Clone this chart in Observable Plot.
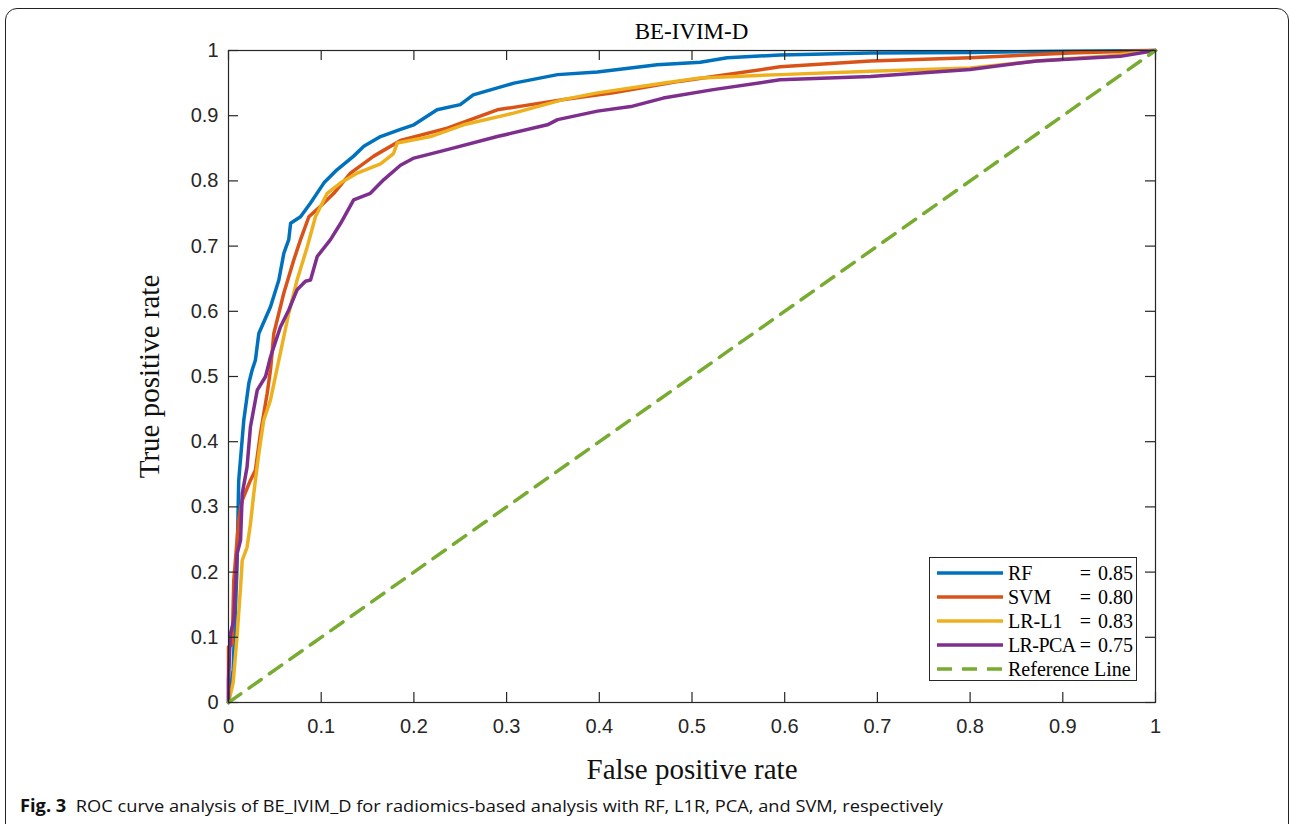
<!DOCTYPE html>
<html>
<head>
<meta charset="utf-8">
<script src="https://cdn.jsdelivr.net/npm/d3@7"></script>
<script src="https://cdn.jsdelivr.net/npm/@observablehq/plot@0.6"></script>
<style>
  html, body { margin: 0; padding: 0; background: #fff; }
  #wrap { position: relative; width: 1290px; height: 824px; overflow: hidden; background: #fff; }
  #chart { position: absolute; left: 0; top: 0; }
  #border { position: absolute; left: 5px; top: 8px; width: 1284px; height: 900px; border: 1.5px solid #222; border-radius: 12px; box-sizing: border-box; pointer-events: none; }
  #title { position: absolute; left: 228px; width: 927px; top: 18px; text-align: center; font-family: "Liberation Serif", serif; font-size: 23px; line-height: 28px; color: #000; }
  #legend { position: absolute; left: 929px; top: 557px; width: 208px; height: 124px; border: 1px solid #262626; background: #fff; box-sizing: border-box; font-family: "Liberation Serif", serif; font-size: 20px; color: #000; }
  .row { position: absolute; left: 0; height: 24px; width: 100%; }
  .row svg { position: absolute; left: 6px; top: 0; }
  .row .name { position: absolute; left: 78px; top: 0; line-height: 24px; white-space: pre; }
  .row .val { position: absolute; right: 3px; top: 0; line-height: 24px; white-space: pre; }
  .row .eq { margin-right: 7px; }
  #caption { position: absolute; left: 20px; top: 795px; white-space: nowrap; font-family: "Open Sans", "Noto Sans", sans-serif; font-size: 17px; line-height: 22px; color: #111; transform-origin: 0 0; display: inline-block; }
</style>
</head>
<body>
<div id="wrap">
  <div id="chart"></div>
  <div id="border"></div>
  <div id="title"></div>
  <div id="legend"></div>
  <div id="caption"></div>
</div>
<script>
// ---------- data ----------
const titleText = "BE-IVIM-D";
const xLabel = "False positive rate";
const yLabel = "True positive rate";
const captionLabel = "Fig. 3";
const captionText = "ROC curve analysis of BE_IVIM_D for radiomics-based analysis with RF, L1R, PCA, and SVM, respectively";

const models = ["RF", "SVM", "LR-L1", "LR-PCA"];
const aucs = ["0.85", "0.80", "0.83", "0.75"];
const colors = ["#0072BD", "#D95319", "#EDB120", "#7E2F8E"];
const refName = "Reference Line";
const refColor = "#77AC30";

const xTicks = [0, 0.1, 0.2, 0.3, 0.4, 0.5, 0.6, 0.7, 0.8, 0.9, 1];
const xTickLabels = ["0", "0.1", "0.2", "0.3", "0.4", "0.5", "0.6", "0.7", "0.8", "0.9", "1"];
const yTicks = [0, 0.1, 0.2, 0.3, 0.4, 0.5, 0.6, 0.7, 0.8, 0.9, 1];
const yTickLabels = ["0", "0.1", "0.2", "0.3", "0.4", "0.5", "0.6", "0.7", "0.8", "0.9", "1"];

const rfX = [0, 0.005, 0.009, 0.011, 0.0165, 0.022, 0.0255, 0.029, 0.0327, 0.0453, 0.0543, 0.0597, 0.065, 0.067, 0.0777, 0.0885, 0.103, 0.117, 0.135, 0.146, 0.164, 0.1855, 0.2, 0.225, 0.25, 0.264, 0.308, 0.355, 0.398, 0.4625, 0.509, 0.538, 0.595, 0.6925, 0.8, 0.9, 1];
const rfY = [0, 0.05, 0.2, 0.34, 0.433, 0.49, 0.51, 0.525, 0.566, 0.607, 0.648, 0.689, 0.71, 0.735, 0.745, 0.766, 0.797, 0.817, 0.838, 0.853, 0.868, 0.879, 0.886, 0.909, 0.917, 0.932, 0.95, 0.963, 0.967, 0.978, 0.982, 0.989, 0.993, 0.996, 0.997, 0.999, 1];

const svmX = [0, 0, 0.004, 0.0057, 0.011, 0.0148, 0.0237, 0.029, 0.0345, 0.0417, 0.0453, 0.0489, 0.0597, 0.0705, 0.0777, 0.0867, 0.0992, 0.1136, 0.1316, 0.1567, 0.1855, 0.236, 0.29, 0.326, 0.362, 0.415, 0.4876, 0.523, 0.595, 0.6925, 0.8, 0.908, 1];
const svmY = [0, 0.085, 0.09, 0.187, 0.28, 0.31, 0.341, 0.356, 0.413, 0.474, 0.51, 0.566, 0.628, 0.679, 0.71, 0.745, 0.761, 0.781, 0.812, 0.838, 0.862, 0.881, 0.909, 0.917, 0.925, 0.935, 0.953, 0.96, 0.975, 0.984, 0.989, 0.996, 1];

const l1X = [0, 0.005, 0.0094, 0.013, 0.0148, 0.02, 0.0237, 0.0273, 0.0327, 0.038, 0.0453, 0.0543, 0.065, 0.074, 0.085, 0.0938, 0.1065, 0.121, 0.139, 0.164, 0.178, 0.182, 0.218, 0.2535, 0.3075, 0.362, 0.398, 0.47, 0.509, 0.595, 0.6925, 0.8, 0.872, 0.944, 1];
const l1Y = [0, 0.03, 0.105, 0.177, 0.218, 0.238, 0.274, 0.321, 0.382, 0.433, 0.464, 0.525, 0.597, 0.648, 0.699, 0.745, 0.781, 0.797, 0.812, 0.826, 0.842, 0.858, 0.868, 0.886, 0.904, 0.925, 0.935, 0.95, 0.958, 0.963, 0.968, 0.973, 0.984, 0.991, 1];

const pcaX = [0, 0, 0.002, 0.0057, 0.0075, 0.0094, 0.013, 0.0148, 0.02, 0.0237, 0.031, 0.04, 0.0453, 0.056, 0.065, 0.074, 0.083, 0.0885, 0.0957, 0.11, 0.121, 0.135, 0.153, 0.1676, 0.1855, 0.2, 0.236, 0.29, 0.344, 0.355, 0.398, 0.434, 0.469, 0.523, 0.595, 0.6925, 0.8, 0.872, 0.962, 1];
const pcaY = [0, 0.034, 0.105, 0.126, 0.177, 0.229, 0.249, 0.32, 0.361, 0.423, 0.479, 0.5, 0.53, 0.576, 0.602, 0.633, 0.646, 0.648, 0.684, 0.71, 0.735, 0.771, 0.781, 0.802, 0.824, 0.835, 0.848, 0.868, 0.886, 0.894, 0.907, 0.914, 0.927, 0.94, 0.955, 0.96, 0.971, 0.984, 0.991, 1];

const refX = [0, 1];
const refY = [0, 1];

// ---------- build tables ----------
const seriesX = [rfX, svmX, l1X, pcaX];
const seriesY = [rfY, svmY, l1Y, pcaY];
const rocRows = [];
models.forEach((m, i) => {
  seriesX[i].forEach((x, j) => rocRows.push({model: m, fpr: x, tpr: seriesY[i][j]}));
});
const refRows = refX.map((x, j) => ({fpr: x, tpr: refY[j]}));

// ---------- layout ----------
const W = 1290, H = 824, ML = 228, MR = 135, MT = 50, MB = 122;
const FW = W - ML - MR, FH = H - MT - MB, TL = 10;
const axisColor = "#262626";
const sansFont = "'Liberation Sans', Arial, Helvetica, sans-serif";
const serifFont = "'Liberation Serif', 'Times New Roman', serif";

const chart = Plot.plot({
  width: W, height: H,
  marginLeft: ML, marginRight: MR, marginTop: MT, marginBottom: MB,
  x: {domain: [0, 1]},
  y: {domain: [0, 1]},
  color: {domain: models, range: colors},
  style: {background: "transparent", fontFamily: sansFont, color: axisColor},
  marks: [
    Plot.line(rocRows, {x: "fpr", y: "tpr", z: "model", stroke: "model", strokeWidth: 3.5, strokeLinejoin: "round"}),
    Plot.line(refRows, {x: "fpr", y: "tpr", stroke: refColor, strokeWidth: 3.5, strokeDasharray: "15,10"}),
    Plot.frame({stroke: axisColor, strokeWidth: 1.2}),
    Plot.tickX(xTicks, {x: d => d, stroke: axisColor, strokeWidth: 1.2, insetTop: FH - TL}),
    Plot.tickX(xTicks, {x: d => d, stroke: axisColor, strokeWidth: 1.2, insetBottom: FH - TL}),
    Plot.tickY(yTicks, {y: d => d, stroke: axisColor, strokeWidth: 1.2, insetRight: FW - TL}),
    Plot.tickY(yTicks, {y: d => d, stroke: axisColor, strokeWidth: 1.2, insetLeft: FW - TL}),
    Plot.axisX({ticks: xTicks, tickSize: 0, tickPadding: 16, tickFormat: (d, i) => xTickLabels[i], fontFamily: sansFont, fontSize: 20, fill: axisColor, label: null}),
    Plot.axisY({ticks: yTicks, tickSize: 0, tickPadding: 10, tickFormat: (d, i) => yTickLabels[i], fontFamily: sansFont, fontSize: 20, fill: axisColor, label: null}),
    Plot.axisX({ticks: [], tickSize: 0, label: xLabel, labelAnchor: "center", labelOffset: 76, labelArrow: "none", fontFamily: serifFont, fontSize: 29, fill: "#111"}),
    Plot.axisY({ticks: [], tickSize: 0, label: yLabel, labelAnchor: "center", labelOffset: 90, labelArrow: "none", fontFamily: serifFont, fontSize: 29, fill: "#111"})
  ]
});
document.getElementById("chart").appendChild(chart);

// ---------- title ----------
document.getElementById("title").textContent = titleText;

// ---------- legend ----------
const legend = document.getElementById("legend");
const entries = models.map((m, i) => ({name: m, auc: aucs[i], color: colors[i], dash: null}));
entries.push({name: refName, auc: null, color: refColor, dash: "15,10"});
entries.forEach((e, i) => {
  const row = document.createElement("div");
  row.className = "row";
  row.style.top = (3 + i * 24) + "px";
  const dashAttr = e.dash ? ` stroke-dasharray="${e.dash}"` : "";
  row.innerHTML = `<svg width="68" height="24"><line x1="1" x2="67" y1="12" y2="12" stroke="${e.color}" stroke-width="3.5"${dashAttr}/></svg>`;
  const nm = document.createElement("span");
  nm.className = "name";
  nm.textContent = e.name;
  if (e.auc && e.name.length > 5) nm.style.letterSpacing = "-0.6px";
  row.appendChild(nm);
  if (e.auc) {
    const v = document.createElement("span");
    v.className = "val";
    v.innerHTML = `<span class="eq">=</span>${e.auc}`;
    row.appendChild(v);
  }
  legend.appendChild(row);
});

// ---------- caption ----------
const cap = document.getElementById("caption");
const b = document.createElement("b");
b.textContent = captionLabel;
cap.appendChild(b);
cap.appendChild(document.createTextNode("\u00a0\u00a0" + captionText));
const cw = cap.getBoundingClientRect().width;
cap.style.transform = `scaleX(${923 / cw})`;
</script>
</body>
</html>
